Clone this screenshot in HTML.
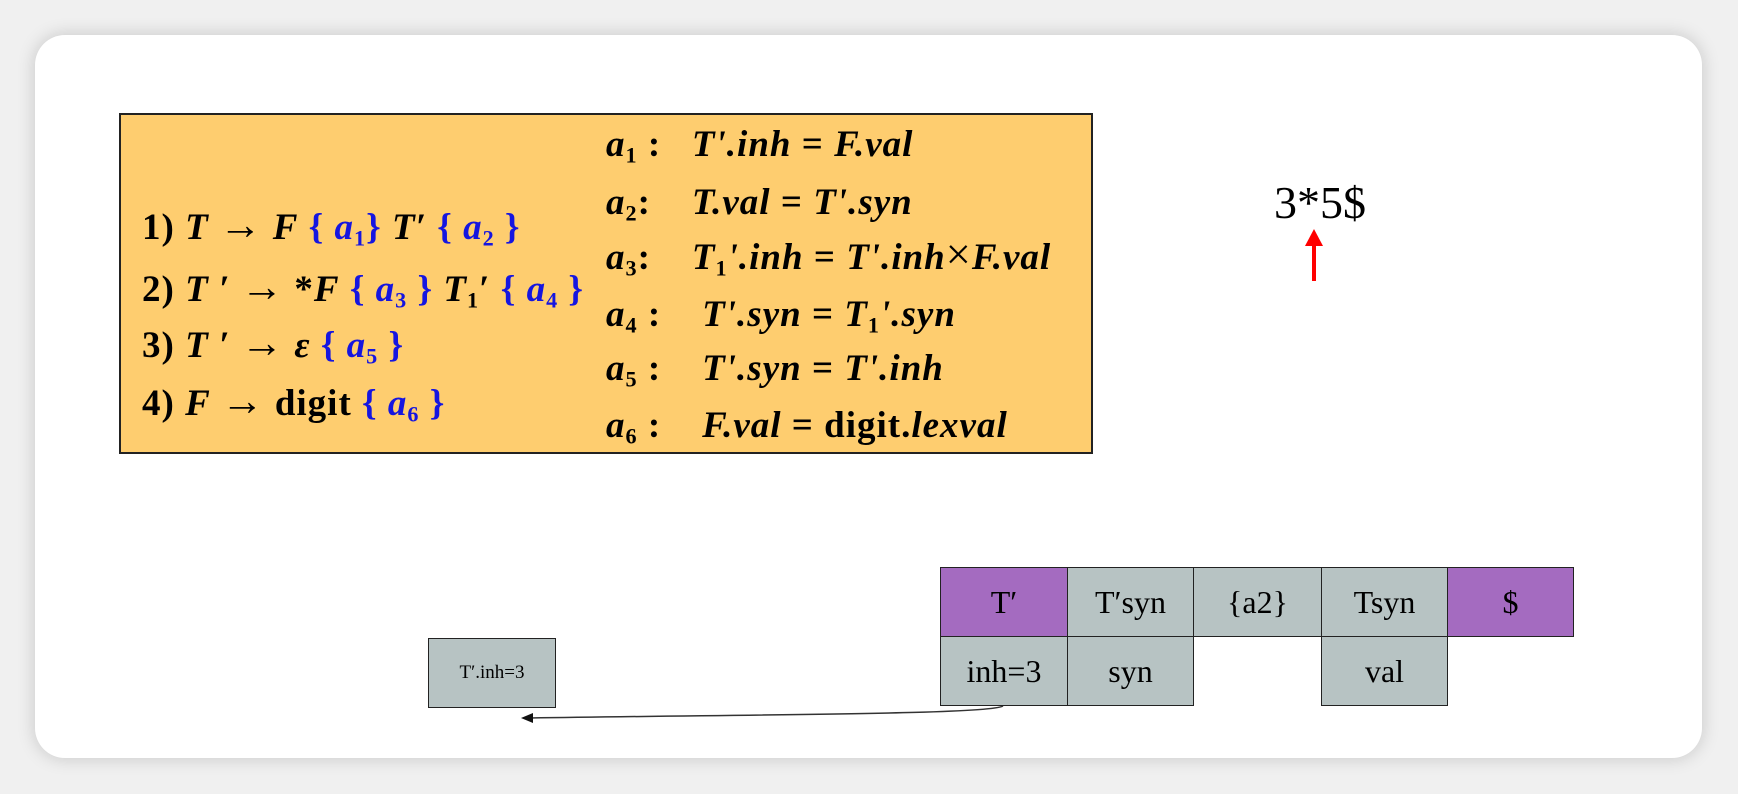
<!DOCTYPE html>
<html><head><meta charset="utf-8"><style>
body{margin:0;width:1738px;height:794px;background:#f0f0f0;position:relative;overflow:hidden;font-family:"Liberation Serif",serif}
.card{position:absolute;left:35px;top:35px;width:1667px;height:723px;background:#fff;border-radius:30px;box-shadow:0 0 18px rgba(0,0,0,0.18)}
.box{position:absolute;left:119px;top:113px;width:970px;height:337px;background:#fecd6f;border:2px solid #222}
.t{position:absolute;font-weight:bold;font-size:37px;white-space:nowrap;color:#000;line-height:1;letter-spacing:1px}
.b{color:#1515e0}
.ar{font-size:1.15em;font-weight:normal;line-height:0}
sub{font-size:0.6em;vertical-align:-0.3em;line-height:0}
.c{position:absolute;box-sizing:border-box;border:1.5px solid #222;display:flex;align-items:center;justify-content:center;font-size:32px;background:#b7c3c3}
.p{background:#a46bc0}
</style></head><body>
<div class="card"></div>
<div class="box"></div>
<div class="t" style="left:142px;top:209px">1) <i>T</i> <span class="ar">→</span> <i>F</i> <span class="b">{ <i>a</i><sub>1</sub>}</span> <i>T′</i> <span class="b">{ <i>a</i><sub>2</sub> }</span></div>
<div class="t" style="left:142px;top:271px">2) <i>T ′</i> <span class="ar">→</span> *<i>F</i> <span class="b">{ <i>a</i><sub>3</sub> }</span> <i>T</i><sub>1</sub>′ <span class="b">{ <i>a</i><sub>4</sub> }</span></div>
<div class="t" style="left:142px;top:327px">3) <i>T ′</i> <span class="ar">→</span> <i>ε</i> <span class="b">{ <i>a</i><sub>5</sub> }</span></div>
<div class="t" style="left:142px;top:385px">4) <i>F</i> <span class="ar">→</span> digit <span class="b">{ <i>a</i><sub>6</sub> }</span></div>
<div class="t" style="left:606px;top:126px"><i>a</i><sub>1</sub> : &nbsp;&nbsp;<i>T'.inh</i> = <i>F.val</i></div>
<div class="t" style="left:606px;top:184px"><i>a</i><sub>2</sub>: &nbsp;&nbsp;&nbsp;<i>T.val</i> = <i>T'.syn</i></div>
<div class="t" style="left:606px;top:239px"><i>a</i><sub>3</sub>: &nbsp;&nbsp;&nbsp;<i>T</i><sub>1</sub><i>'.inh</i> = <i>T'.inh</i><span style="font-weight:normal;font-size:1.2em;line-height:0">×</span><i>F.val</i></div>
<div class="t" style="left:606px;top:296px"><i>a</i><sub>4</sub> : &nbsp;&nbsp;&nbsp;<i>T'.syn</i> = <i>T</i><sub>1</sub><i>'.syn</i></div>
<div class="t" style="left:606px;top:350px"><i>a</i><sub>5</sub> : &nbsp;&nbsp;&nbsp;<i>T'.syn</i> = <i>T'.inh</i></div>
<div class="t" style="left:606px;top:407px"><i>a</i><sub>6</sub> : &nbsp;&nbsp;&nbsp;<i>F.val</i> = digit.<i>lexval</i></div>
<div style="position:absolute;left:1274px;top:180px;font-size:46px;line-height:1">3*5$</div>
<svg style="position:absolute;left:0;top:0" width="1738" height="794">
<line x1="1314" y1="244" x2="1314" y2="281" stroke="#f00" stroke-width="4"/>
<polygon points="1314,229 1305,246 1323,246" fill="#f00"/>
<path d="M1003,706 C990,714 800,714 530,718" stroke="#333" stroke-width="1.5" fill="none"/>
<polygon points="521,718 533,713 533,723" fill="#111"/>
</svg>
<div class="c p" style="left:940px;top:567px;width:128px;height:70px">T′</div>
<div class="c" style="left:1067px;top:567px;width:127px;height:70px">T′syn</div>
<div class="c" style="left:1193px;top:567px;width:129px;height:70px">{a2}</div>
<div class="c" style="left:1321px;top:567px;width:127px;height:70px">Tsyn</div>
<div class="c p" style="left:1447px;top:567px;width:127px;height:70px">$</div>
<div class="c" style="left:940px;top:636px;width:128px;height:70px">inh=3</div>
<div class="c" style="left:1067px;top:636px;width:127px;height:70px">syn</div>
<div class="c" style="left:1321px;top:636px;width:127px;height:70px">val</div>
<div class="c" style="left:428px;top:638px;width:128px;height:70px;font-size:19px">T′.inh=3</div>
</body></html>
